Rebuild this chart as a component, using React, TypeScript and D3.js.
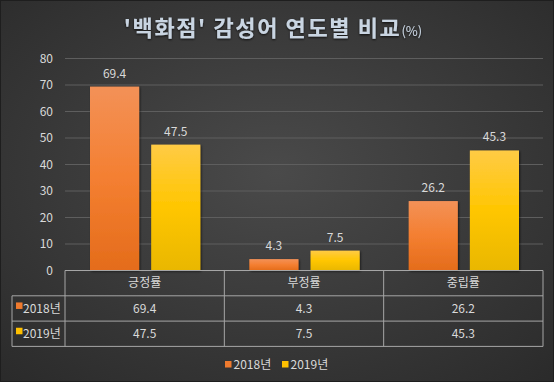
import React from "react";
import * as d3 from "d3";

const categories = ["긍정률", "부정률", "중립률"];
const seriesNames = ["2018년", "2019년"];
const values2018 = [69.4, 4.3, 26.2];
const values2019 = [47.5, 7.5, 45.3];
const yTicks = [0, 10, 20, 30, 40, 50, 60, 70, 80];

const W = 554;
const H = 382;
const plotLeft = 65;
const plotRight = 543;
const yTop = 58.5;
const yBottom = 270.5;
const tableLeft = 12;
const rowH = 25.3;
const FONT = "'Noto Sans CJK KR', 'Noto Sans', sans-serif";
const TXT = "#d9d9d9";
const FS = 12;

export default function App() {
  const series = [
    { name: seriesNames[0], values: values2018, grad: "gOrange", key: "#ef7a2e" },
    { name: seriesNames[1], values: values2019, grad: "gYellow", key: "#ffc000" },
  ];
  const y = d3.scaleLinear().domain([0, 80]).range([yBottom, yTop]);
  const x0 = d3.scaleBand<string>().domain(categories).range([plotLeft, plotRight]);
  const x1 = d3
    .scaleBand<string>()
    .domain(seriesNames)
    .range([25, x0.bandwidth() - 24])
    .paddingInner(0.197);

  const rows = [yBottom, yBottom + rowH, yBottom + 2 * rowH, yBottom + 3 * rowH];
  const lineColor = "#a6a6a6";

  return (
    <svg width={W} height={H} style={{ position: "absolute", left: 0, top: 0, display: "block" }}>
      <defs>
        <radialGradient id="bg" cx="50%" cy="45%" r="75%">
          <stop offset="0%" stopColor="#4a4a4a" />
          <stop offset="100%" stopColor="#2a2a2a" />
        </radialGradient>
        <linearGradient id="gOrange" x1="0" y1="0" x2="0" y2="1">
          <stop offset="0%" stopColor="#f39157" />
          <stop offset="50%" stopColor="#f47f31" />
          <stop offset="100%" stopColor="#e46c1b" />
        </linearGradient>
        <linearGradient id="gYellow" x1="0" y1="0" x2="0" y2="1">
          <stop offset="0%" stopColor="#ffcb45" />
          <stop offset="50%" stopColor="#ffc600" />
          <stop offset="100%" stopColor="#e9b700" />
        </linearGradient>
        <filter id="shadow" x="-10%" y="-10%" width="130%" height="130%">
          <feDropShadow dx="1" dy="1" stdDeviation="1" floodColor="#000" floodOpacity="0.6" />
        </filter>
        <filter id="glow" x="-10%" y="-30%" width="120%" height="160%">
          <feDropShadow dx="0" dy="1" stdDeviation="1.2" floodColor="#000" floodOpacity="0.8" />
        </filter>
      </defs>
      <rect x={0} y={0} width={W} height={H} fill="url(#bg)" />
      <rect x={0.5} y={0.5} width={W - 1} height={H - 1} fill="none" stroke="#1e1e1e" />

      <text
        x={273}
        y={36}
        textAnchor="middle"
        fontFamily={FONT}
        fontWeight="bold"
        fontSize={22}
        letterSpacing={1.6}
        fill="#c9d5e2"
        filter="url(#glow)"
      >
        '백화점' 감성어 연도별 비교
        <tspan fontSize={13} fontWeight="normal" letterSpacing={0}>(%)</tspan>
      </text>

      {yTicks.map((t) => (
        <g key={t}>
          {t > 0 && (
            <line x1={plotLeft} x2={plotRight} y1={y(t)} y2={y(t)} stroke="#5e5e5e" strokeWidth={1} />
          )}
          <text
            x={53}
            y={y(t)}
            dy="0.35em"
            textAnchor="end"
            fontFamily={FONT}
            fontSize={FS}
            fill={TXT}
          >
            {t}
          </text>
        </g>
      ))}

      {categories.map((c, i) => (
        <g key={c} transform={`translate(${x0(c)},0)`}>
          {series.map((s) => (
            <g key={s.name}>
              <rect
                x={x1(s.name)}
                y={y(s.values[i])}
                width={x1.bandwidth()}
                height={y(0) - y(s.values[i])}
                fill={`url(#${s.grad})`}
                filter="url(#shadow)"
              />
              <text
                x={(x1(s.name) as number) + x1.bandwidth() / 2}
                y={y(s.values[i]) - 9}
                textAnchor="middle"
                fontFamily={FONT}
                fontSize={FS}
                fill={TXT}
              >
                {s.values[i]}
              </text>
            </g>
          ))}
        </g>
      ))}

      {/* data table */}
      <g stroke={lineColor} strokeWidth={1} fill="none">
        <line x1={plotLeft} x2={plotRight} y1={rows[0]} y2={rows[0]} />
        <line x1={tableLeft} x2={plotRight} y1={rows[1]} y2={rows[1]} />
        <line x1={tableLeft} x2={plotRight} y1={rows[2]} y2={rows[2]} />
        <line x1={tableLeft} x2={plotRight} y1={rows[3]} y2={rows[3]} />
        <line x1={tableLeft} x2={tableLeft} y1={rows[1]} y2={rows[3]} />
        <line x1={plotLeft} x2={plotLeft} y1={rows[0]} y2={rows[3]} />
        {categories.map((c) => (
          <line
            key={c}
            x1={(x0(c) as number) + x0.bandwidth()}
            x2={(x0(c) as number) + x0.bandwidth()}
            y1={rows[0]}
            y2={rows[3]}
          />
        ))}
      </g>
      {categories.map((c, i) => (
        <g key={c} fontFamily={FONT} fontSize={FS} fill={TXT} textAnchor="middle">
          <text x={(x0(c) as number) + x0.bandwidth() / 2} y={(rows[0] + rows[1]) / 2} dy="0.35em">
            {c}
          </text>
          {series.map((s, j) => (
            <text
              key={s.name}
              x={(x0(c) as number) + x0.bandwidth() / 2}
              y={(rows[j + 1] + rows[j + 2]) / 2}
              dy="0.35em"
            >
              {s.values[i]}
            </text>
          ))}
        </g>
      ))}
      {series.map((s, j) => (
        <g key={s.name}>
          <rect x={16} y={(rows[j + 1] + rows[j + 2]) / 2 - 6} width={6.5} height={6.5} fill={s.key} />
          <text
            x={23}
            y={(rows[j + 1] + rows[j + 2]) / 2}
            dy="0.35em"
            fontFamily={FONT}
            fontSize={FS}
            fill={TXT}
          >
            {s.name}
          </text>
        </g>
      ))}

      {/* legend */}
      {series.map((s, j) => (
        <g key={s.name} transform={`translate(${225 + j * 57},365)`}>
          <rect x={0} y={-4} width={6.5} height={6.5} fill={s.key} />
          <text x={8.5} y={0} dy="0.35em" fontFamily={FONT} fontSize={FS} fill={TXT}>
            {s.name}
          </text>
        </g>
      ))}
    </svg>
  );
}
